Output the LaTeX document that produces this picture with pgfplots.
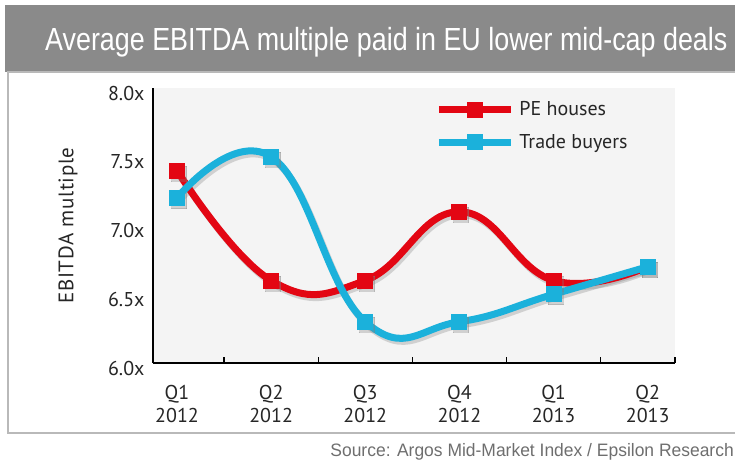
\documentclass[border=0pt]{standalone}
\usepackage{pgfplots}
\pgfplotsset{compat=1.18}
\usepackage{fontspec}
\setmainfont{PT Sans}
\newfontfamily\condfont[FakeStretch=0.84]{Liberation Sans}
\newfontfamily\srcfont[FakeStretch=0.97]{Liberation Sans}
\newfontfamily\labfont[LetterSpace=3]{PT Sans}
\definecolor{pered}{HTML}{E30613}
\definecolor{tbcyan}{HTML}{1BB1DB}
\definecolor{barg}{HTML}{8A8A8A}
\definecolor{plotbg}{HTML}{F4F4F4}
\definecolor{txt}{HTML}{262626}
\definecolor{srcgray}{HTML}{6E6E6E}

\begin{document}
\begin{tikzpicture}
\path[use as bounding box] (0pt,0pt) rectangle (735pt,-461pt);
\fill[barg] (5pt,-5pt) rectangle (740pt,-72pt);
\draw[line width=2pt, draw=gray!55, fill=white] (8pt,-72pt) rectangle (745pt,-433pt);
\node[anchor=base west, text=white, inner sep=0pt, font=\condfont\fontsize{32}{36}\selectfont] at (45pt,-50pt) {Average EBITDA multiple paid in EU lower mid-cap deals};
\node[anchor=base east, text=srcgray, inner sep=0pt, font=\srcfont\fontsize{18}{20}\selectfont] at (734pt,-456pt) {Source: Argos Mid-Market Index / Epsilon Research};
\begin{axis}[
  at={(153pt,-363pt)}, anchor=south west,
  scale only axis, width=522pt, height=275pt,
  xmin=-0.255, xmax=5.29, ymin=6, ymax=8,
  axis lines*=left,
  axis line style={-, line width=1.5pt, black},
  axis background/.style={fill=plotbg},
  xtick={0,1,2,3,4,5},
  xticklabels={{Q1\\2012},{Q2\\2012},{Q3\\2012},{Q4\\2012},{Q1\\2013},{Q2\\2013}},
  xticklabel style={align=center, text=txt, font=\fontsize{20}{23}\selectfont, yshift=-19pt},
  minor xtick={0.5,1.5,2.5,3.5,4.5,5.29},
  ytick={6,6.5,7,7.5,8},
  yticklabels={6.0x,6.5x,7.0x,7.5x,8.0x},
  yticklabel style={text=txt, font=\fontsize{20}{23}\selectfont, xshift=-5pt, yshift=-5pt},
  major tick length=0pt,
  minor tick length=6pt,
  tick align=inside,
  minor tick style={line width=1.2pt, black},
  tick pos=left,
  ylabel={EBITDA multiple},
  ylabel style={at={(axis description cs:-0.163,0.5)}, rotate=0, anchor=center, font=\labfont\fontsize{21}{24}\selectfont, text=txt},
  legend style={at={(axis description cs:0.535,0.965)}, anchor=north west, draw=none, fill=none, font=\fontsize{20}{23}\selectfont, row sep=13pt, text=txt, nodes={inner xsep=5pt}},
  legend cell align=left,
  legend image code/.code={\draw[mark repeat=2,mark phase=2] plot coordinates {(0pt,0pt)(36pt,0pt)(72pt,0pt)};},
  every axis plot/.append style={smooth, tension=0.75, line width=7pt, mark=square*, mark size=7.5pt, mark options={line width=0pt}},
]
\addplot[gray, opacity=0.3, xshift=2pt, yshift=-3pt, forget plot] coordinates {(0,7.4) (1,6.6) (2,6.6) (3,7.1) (4,6.6) (5,6.7)};
\addplot[gray, opacity=0.3, xshift=2pt, yshift=-3pt, forget plot] coordinates {(0,7.2) (1,7.5) (2,6.3) (3,6.3) (4,6.5) (5,6.7)};
\addplot[pered] coordinates {(0,7.4) (1,6.6) (2,6.6) (3,7.1) (4,6.6) (5,6.7)};
\addlegendentry{PE houses}
\addplot[tbcyan] coordinates {(0,7.2) (1,7.5) (2,6.3) (3,6.3) (4,6.5) (5,6.7)};
\addlegendentry{Trade buyers}
\end{axis}
\end{tikzpicture}
\end{document}
